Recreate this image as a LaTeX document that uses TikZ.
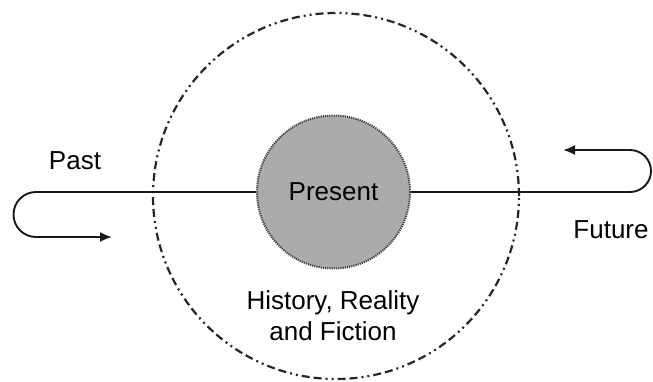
\documentclass[tikz,border=0pt]{standalone}
\usepackage{fontspec}
\setmainfont{Liberation Sans}
\usetikzlibrary{arrows.meta}
\begin{document}
\begin{tikzpicture}[x=1pt,y=-1pt,
  lbl/.style={font=\fontsize{26}{31}\selectfont, inner sep=0pt, align=center},
  conn/.style={line width=1.9pt, draw=black!90, -{Latex[length=12pt,width=10pt]}},
  outerc/.style={circle, draw=black!85, line width=2.2pt, minimum size=366pt, inner sep=0pt,
    dash pattern=on 8pt off 4pt on 8pt off 4pt on 2pt off 4pt on 2pt off 4pt},
  presc/.style={circle, draw=black!75, fill=black!33, line width=2pt, dash pattern=on 1.2pt off 1pt, minimum size=153pt, inner sep=0pt}]
\useasboundingbox (0,0) rectangle (653,381);
\node[outerc] (outer) at (336,196) {};
\node[presc] (present) at (333.5,192) {};
\node[lbl] (presentlbl) at (333.5,192) {Present};
\coordinate (pastend) at (112,237);
\coordinate (futend) at (563,150);
\draw[conn] (present.west) -- (36,192) arc[start angle=270,end angle=90,radius=22.5] -- (pastend);
\draw[conn] (present.east) -- (630,192) arc[start angle=90,end angle=-90,radius=21] -- (futend);
\node[lbl] (past) at (75,161) {Past};
\node[lbl] (future) at (611,230) {Future};
\node[lbl] (hist) at (333,316) {History, Reality\\and Fiction};
\end{tikzpicture}
\end{document}
